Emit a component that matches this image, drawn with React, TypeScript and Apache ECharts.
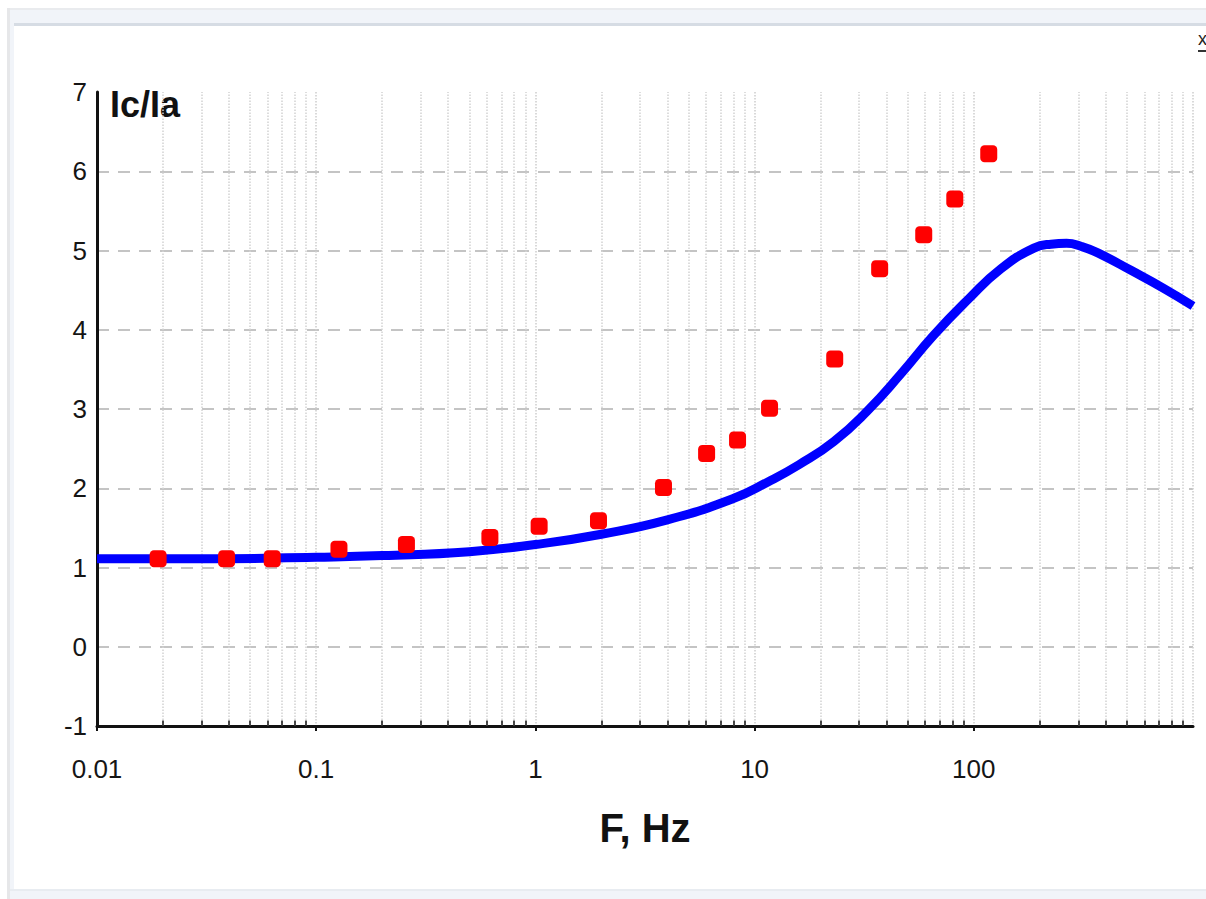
import React, { useEffect, useRef } from "react";
import * as echarts from "echarts";

// Measured curve (F in Hz, Ic/Ia)
const curveF = [0.01, 0.03, 0.1, 0.2, 0.5, 1, 2, 4, 8, 11.5, 16, 23, 32.8, 46.4, 65.6, 94, 133, 188, 225, 265, 310, 368, 521, 738, 1000];
const curveY = [1.11, 1.11, 1.13, 1.15, 1.2, 1.29, 1.42, 1.6, 1.87, 2.08, 2.3, 2.59, 2.98, 3.44, 3.93, 4.38, 4.77, 5.03, 5.08, 5.09, 5.05, 4.97, 4.75, 4.52, 4.3];

// Experimental points
const pointF = [0.019, 0.039, 0.063, 0.127, 0.258, 0.62, 1.04, 1.94, 3.84, 6.04, 8.36, 11.7, 23.2, 37.2, 59.1, 81.9, 117];
const pointY = [1.11, 1.11, 1.11, 1.23, 1.29, 1.38, 1.52, 1.59, 2.01, 2.44, 2.61, 3.01, 3.63, 4.77, 5.2, 5.65, 6.22];

// Axis definitions
const xMin = 0.01;
const xMax = 1000;
const yMin = -1;
const yMax = 7;
const decades = [0.01, 0.1, 1, 10, 100];
const minorMultipliers = [2, 3, 4, 5, 6, 7, 8, 9];

const xAxisTitle = "F, Hz";
const yAxisTitle = "Ic/Ia";

const tickFont = '"Liberation Sans Narrow", "Arial Narrow", "Liberation Sans", Arial, sans-serif';

export default function App() {
  const ref = useRef<HTMLDivElement>(null);

  useEffect(() => {
    if (!ref.current) return;
    const chart = echarts.init(ref.current, null, { renderer: "svg" });

    const minorValues: number[] = [];
    decades.forEach((d) => minorMultipliers.forEach((m) => minorValues.push(+(d * m).toPrecision(6))));

    const option: any = {
      animation: false,
      backgroundColor: "#ffffff",
      grid: { left: 97, right: 13, top: 92, height: 634, containLabel: false },
      xAxis: {
        type: "log",
        logBase: 10,
        min: xMin,
        max: xMax,
        name: xAxisTitle,
        nameLocation: "middle",
        nameGap: 82,
        nameTextStyle: { fontFamily: "Liberation Sans, Arial, sans-serif", fontWeight: "bold", fontSize: 40, color: "#111" },
        axisLine: { show: true, onZero: false, lineStyle: { color: "#111", width: 3 } },
        axisTick: { show: true, length: 5, inside: false, lineStyle: { color: "#111", width: 2 } },
        axisLabel: {
          show: true,
          margin: 30,
          fontSize: 26,
          fontFamily: tickFont,
          color: "#151515",
          showMaxLabel: false,
          formatter: (v: number) => String(Number(v.toPrecision(6))),
        },
        splitLine: { show: true, lineStyle: { color: "#cdcdcd", type: "dotted", width: 1.5 } },
      },
      yAxis: {
        type: "value",
        min: yMin,
        max: yMax,
        interval: 1,
        name: yAxisTitle,
        nameLocation: "end",
        nameGap: 6,
        nameTextStyle: {
          fontFamily: "Liberation Sans, Arial, sans-serif",
          fontWeight: "bold",
          fontSize: 36,
          color: "#111",
          align: "left",
          verticalAlign: "top",
          padding: [0, 0, 0, 13],
        },
        axisLine: { show: true, lineStyle: { color: "#111", width: 3 } },
        axisTick: { show: false },
        axisLabel: { show: true, margin: 10, fontSize: 26, fontFamily: tickFont, color: "#151515" },
        splitLine: { show: true, showMaxLine: false, lineStyle: { color: "#c4c4c4", type: [12, 9], width: 2 } },
      },
      series: [
        {
          type: "line",
          data: curveF.map((f, i) => [f, curveY[i]]),
          smooth: 0.5,
          symbol: "none",
          lineStyle: { color: "#0000ff", width: 9 },
          z: 3,
          markLine: {
            silent: true,
            symbol: ["none", "none"],
            label: { show: false },
            lineStyle: { color: "#d2d2d2", type: "dotted", width: 1.5 },
            data: minorValues.map((v) => ({ xAxis: v })),
            z: 1,
          },
        },
        {
          type: "line",
          data: [],
          symbol: "none",
          markLine: {
            silent: true,
            symbol: ["none", "none"],
            label: { show: false },
            lineStyle: { color: "#111", type: "solid", width: 1.5 },
            data: minorValues.map((v) => [
              { coord: [v, yMin] },
              { coord: [v, yMin + 0.07] },
            ]),
          },
        },
        {
          type: "scatter",
          data: pointF.map((f, i) => [f, pointY[i]]),
          symbol: "roundRect",
          symbolSize: 17,
          itemStyle: { color: "#ff0000", opacity: 1 },
          z: 5,
        },
      ],
      graphic: [
        { type: "rect", shape: { x: 7, y: 8, width: 1199, height: 16 }, style: { fill: "#f1f4f9" }, silent: true },
        { type: "rect", shape: { x: 7, y: 8, width: 1199, height: 2 }, style: { fill: "#e9ebee" }, silent: true },
        { type: "rect", shape: { x: 13, y: 23, width: 1193, height: 3 }, style: { fill: "#d6dce4" }, silent: true },
        { type: "rect", shape: { x: 7, y: 8, width: 3, height: 891 }, style: { fill: "#e6e7e9" }, silent: true },
        { type: "rect", shape: { x: 10, y: 10, width: 4, height: 889 }, style: { fill: "#f1f4f9" }, silent: true },
        { type: "rect", shape: { x: 10, y: 889, width: 1196, height: 2 }, style: { fill: "#e8ecf1" }, silent: true },
        { type: "rect", shape: { x: 10, y: 891, width: 1196, height: 8 }, style: { fill: "#f1f4f9" }, silent: true },
        { type: "text", x: 1198, y: 30, style: { text: "x", fontSize: 18, fontFamily: "Liberation Sans, Arial, sans-serif", fill: "#222" }, silent: true },
        { type: "rect", shape: { x: 1198, y: 50, width: 8, height: 2 }, style: { fill: "#333" }, silent: true },
      ],
    };

    chart.setOption(option);
    return () => chart.dispose();
  }, []);

  return (
    <div
      ref={ref}
      style={{ position: "fixed", left: 0, top: 0, width: 1206, height: 899, background: "#fff" }}
    />
  );
}
